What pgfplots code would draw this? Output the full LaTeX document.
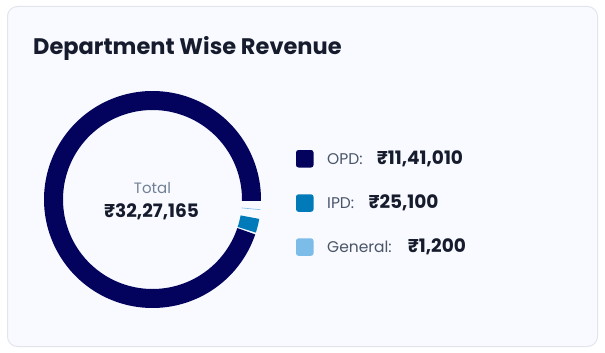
\documentclass[border=0pt]{standalone}
\usepackage{pgfplots}
\pgfplotsset{compat=1.18}
\usepackage{fontspec}
\setmainfont{Poppins}
\definecolor{opd}{RGB}{3,3,94}
\definecolor{ipd}{RGB}{0,122,184}
\definecolor{gen}{RGB}{124,188,232}
\definecolor{cardbg}{RGB}{248,250,255}
\definecolor{cardbd}{RGB}{225,229,238}
\definecolor{titlec}{RGB}{22,28,45}
\definecolor{labc}{RGB}{74,85,104}
\definecolor{totc}{RGB}{113,128,150}
\begin{document}
\begin{tikzpicture}[x=1pt,y=1pt]
\useasboundingbox (0,0) rectangle (605,-353);
\fill[white] (0,0) rectangle (605,-353);
\filldraw[fill=cardbg, draw=cardbd, line width=1pt, rounded corners=10pt] (7.5,-6.5) rectangle (597.5,-346.5);
% values in thousands of rupees
\def\vOPD{1141.010}\def\vIPD{25.100}\def\vGen{1.200}
\pgfmathsetmacro\tot{\vOPD+\vIPD+\vGen}
% gaps between slices (degrees)
\def\gA{4.7}\def\gB{4.4}\def\gC{0.9}
\pgfmathsetmacro\avail{360-\gA-\gB-\gC}
\pgfmathsetmacro\sIPD{-17.8}
\pgfmathsetmacro\eIPD{\sIPD+\vIPD/\tot*\avail}
\pgfmathsetmacro\sGen{\eIPD+\gA}
\pgfmathsetmacro\eGen{\sGen+\vGen/\tot*\avail}
\pgfmathsetmacro\sOPD{\eGen+\gB}
\pgfmathsetmacro\eOPD{\sOPD+\vOPD/\tot*\avail}
\begin{axis}[x=1pt,y=1pt, xmin=0,xmax=605,ymin=-353,ymax=0, hide axis,
  anchor=north west, at={(0,0)}, clip=false, scale only axis]
\addplot[draw=opd, line width=19pt, line cap=butt, domain=\sOPD:\eOPD, samples=200, variable=\t, mark=none] ({152.5+99*cos(t)},{-199.5+99*sin(t)});
\addplot[draw=ipd, line width=19pt, line cap=butt, domain=\sIPD:\eIPD, samples=20, variable=\t, mark=none] ({152.5+99*cos(t)},{-199.5+99*sin(t)});
\addplot[draw=gen, line width=19pt, line cap=butt, domain=\sGen:\eGen, samples=2, variable=\t, mark=none] ({152.5+99*cos(t)},{-199.5+99*sin(t)});
\end{axis}
% title
\node[anchor=base west, inner sep=0, text=titlec, font=\fontsize{22.5}{27}\selectfont\bfseries] at (33,-54.5) {Department Wise Revenue};
% centre text
\node[anchor=base, inner sep=0, text=totc, font=\fontsize{15}{18}\selectfont] at (152.5,-193.3) {Total};
\node[anchor=base, inner sep=0, text=titlec, font=\fontsize{18.5}{22}\selectfont\bfseries] at (151.5,-217.7) {₹32,27,165};
% legend
\fill[opd, rounded corners=2.5pt] (296,-150) rectangle (313.5,-167.5);
\fill[ipd, rounded corners=2.5pt] (296,-194.3) rectangle (313.5,-211.8);
\fill[gen, rounded corners=2.5pt] (296,-238.3) rectangle (313.5,-255.8);
\node[anchor=base west, inner sep=0, text=labc, font=\fontsize{15.5}{18}\selectfont] at (327,-164.3) {OPD:};
\node[anchor=base west, inner sep=0, text=labc, font=\fontsize{15.5}{18}\selectfont] at (327,-208.5) {IPD:};
\node[anchor=base west, inner sep=0, text=labc, font=\fontsize{15.5}{18}\selectfont] at (327,-252.5) {General:};
\node[anchor=base west, inner sep=0, text=titlec, font=\fontsize{18.5}{22}\selectfont\bfseries] at (376.7,-164.6) {₹11,41,010};
\node[anchor=base west, inner sep=0, text=titlec, font=\fontsize{18.5}{22}\selectfont\bfseries] at (368.3,-208.8) {₹25,100};
\node[anchor=base west, inner sep=0, text=titlec, font=\fontsize{18.5}{22}\selectfont\bfseries] at (407.7,-252.8) {₹1,200};
\end{tikzpicture}
\end{document}
